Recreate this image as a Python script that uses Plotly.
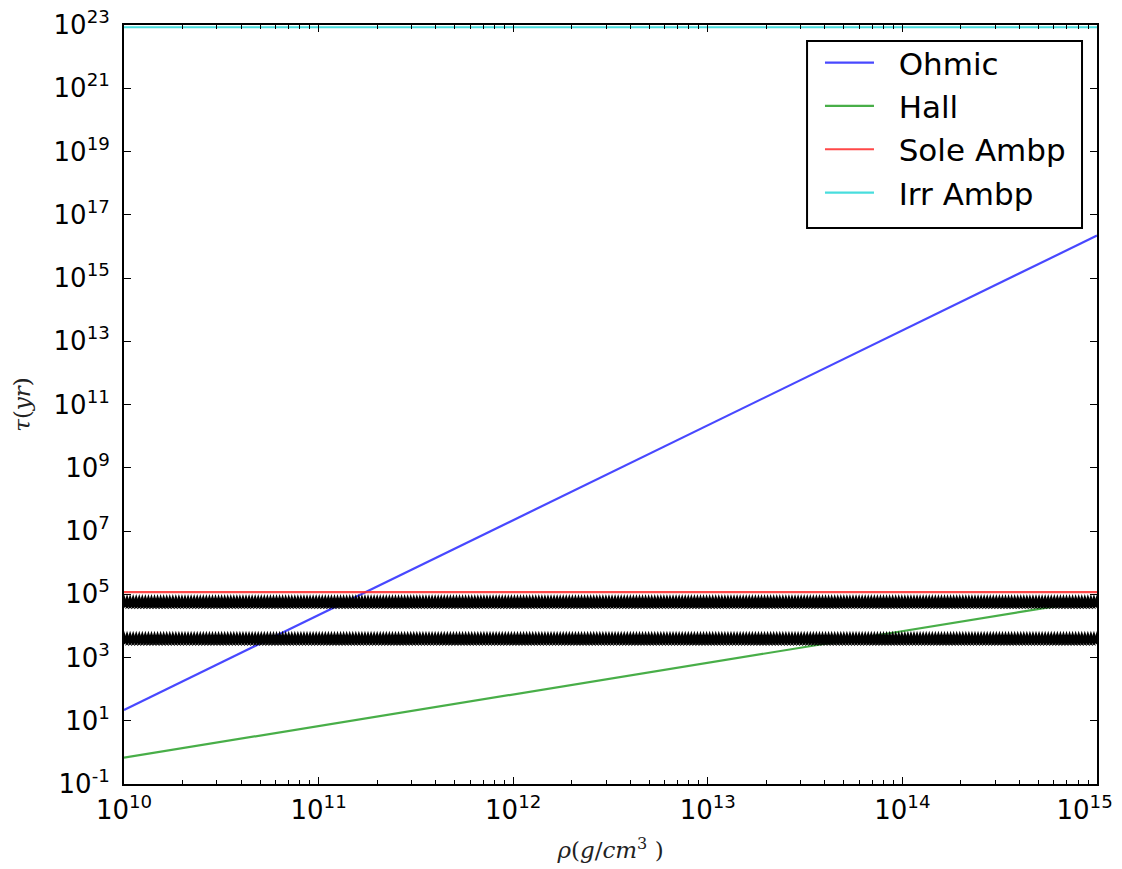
import numpy as np
import plotly.graph_objects as go

# ---- data ----
rho_decades = [1e10, 1e11, 1e12, 1e13, 1e14, 1e15]
ohmic = [2.2e1, 2.2e4, 2.2e7, 2.2e10, 2.2e13, 2.2e16]
hall = [0.68, 6.8, 68, 680, 6.8e3, 6.8e4]
sole_ambp = [1.17e5] * 6
irr_ambp = [8.5e22] * 6

# density grid used for the black marker series
rho_grid = np.logspace(10, 15, 320)
black_level_1 = 5.5e4
black_level_2 = 3.8e3

y_tick_exps = list(range(-1, 24, 2))
x_tick_exps = list(range(10, 16))

fig = go.Figure()

pad = "\u00a0\u00a0"
series = [
    ("Ohmic", ohmic, "rgba(40,40,255,0.85)"),
    ("Hall", hall, "rgba(40,160,40,0.85)"),
    ("Sole Ambp", sole_ambp, "rgba(255,40,40,0.85)"),
    ("Irr Ambp", irr_ambp, "rgba(40,215,215,0.85)"),
]
for name, vals, col in series:
    fig.add_trace(go.Scatter(x=rho_decades, y=vals, mode="lines", name=pad + name,
                             line=dict(color=col, width=2.2)))

for lvl in (black_level_1, black_level_2):
    fig.add_trace(go.Scatter(x=rho_grid, y=[lvl] * len(rho_grid), mode="markers",
                             showlegend=False, hoverinfo="skip",
                             marker=dict(symbol="star", size=12, color="black",
                                         line=dict(width=0))))

tick_font = dict(family="DejaVu Sans", size=26, color="black")
minor_x = [m * 10.0 ** k for k in range(10, 15) for m in range(2, 10)]

x_ticktext = [f"10<sup>{e}</sup>" for e in x_tick_exps]
# keep the last label inside the page (shift it slightly left)
x_ticktext[-1] = x_ticktext[-1] + "\u00a0\u00a0\u00a0"

fig.update_xaxes(type="log", range=[10, 15], automargin=False,
                 tickvals=[10.0 ** e for e in x_tick_exps],
                 ticktext=x_ticktext,
                 ticks="inside", ticklen=7, tickwidth=1, tickcolor="black",
                 minor=dict(tickvals=minor_x, ticks="inside", ticklen=4, tickcolor="black"),
                 showline=True, linecolor="black", linewidth=2, mirror="allticks",
                 showgrid=False, zeroline=False, tickfont=tick_font,
                 ticklabelstandoff=2, ticklabeloverflow="allow",
                 title=dict(text="<i>ρ</i>(<i>g</i>/<i>cm</i><sup>3</sup> )",
                            font=dict(family="DejaVu Serif", size=23, color="#222"),
                            standoff=18))
fig.update_yaxes(type="log", range=[-1, 23], automargin=False,
                 tickvals=[10.0 ** e for e in y_tick_exps],
                 ticktext=[f"10<sup>{e}</sup>" for e in y_tick_exps],
                 ticks="inside", ticklen=7, tickwidth=1, tickcolor="black",
                 showline=True, linecolor="black", linewidth=2, mirror="allticks",
                 showgrid=False, zeroline=False, tickfont=tick_font,
                 ticklabelstandoff=7, ticklabeloverflow="allow",
                 title=dict(text="<i>τ</i>(<i>yr</i>)",
                            font=dict(family="DejaVu Serif", size=23, color="#222"),
                            standoff=16))

# legend frame (box) drawn as a shape, legend entries placed over it
fig.add_shape(type="rect", xref="paper", yref="paper",
              x0=0.702, x1=0.9846, y0=0.7325, y1=0.979,
              fillcolor="white", line=dict(color="black", width=2), layer="above")

fig.update_layout(
    width=1122, height=869,
    margin=dict(l=124, r=25, t=25, b=85),
    paper_bgcolor="white", plot_bgcolor="white",
    legend=dict(x=0.7153, y=0.9855, xanchor="left", yanchor="top",
                bgcolor="rgba(0,0,0,0)", borderwidth=0,
                font=dict(family="DejaVu Sans", size=31, color="black"),
                itemwidth=49, tracegroupgap=0),
)

fig.write_html("out.html")
